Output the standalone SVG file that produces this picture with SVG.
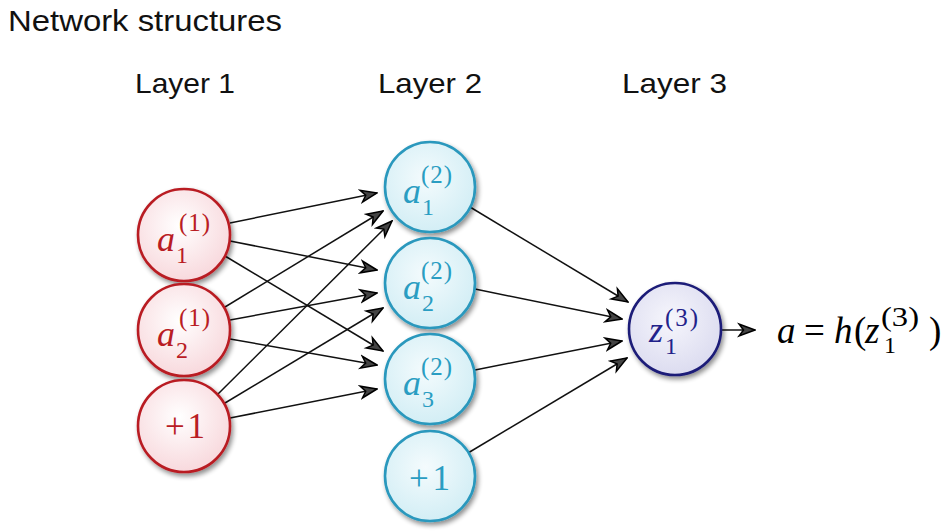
<svg xmlns="http://www.w3.org/2000/svg" width="949" height="531" viewBox="0 0 949 531">
<style>
.title{font-family:"Liberation Sans","Noto Sans",sans-serif;fill:#111}
.m{font-family:"Liberation Serif","DejaVu Serif",serif}
.it{font-style:italic}
.n1 circle{fill:url(#gRed);stroke:#b91c24;stroke-width:2.6}
.n1 text{fill:#b91c24}
.n2 circle{fill:url(#gTeal);stroke:#2a98bd;stroke-width:2.6}
.n2 text{fill:#2a9dc2}
.n3 circle{fill:url(#gNavy);stroke:#1c1c78;stroke-width:2.6}
.n3 text{fill:#22228a}
.edge{stroke:#111;stroke-width:1.5;fill:none;marker-end:url(#arr)}
</style>
<defs>
<radialGradient id="gRed" cx="0.45" cy="0.4" r="0.6"><stop offset="0" stop-color="#ffffff"/><stop offset="1" stop-color="#f8d9dd"/></radialGradient>
<radialGradient id="gTeal" cx="0.45" cy="0.4" r="0.6"><stop offset="0" stop-color="#f4fbfd"/><stop offset="1" stop-color="#d3eef5"/></radialGradient>
<radialGradient id="gNavy" cx="0.45" cy="0.4" r="0.6"><stop offset="0" stop-color="#f6f6fc"/><stop offset="1" stop-color="#dcdcf0"/></radialGradient>
<filter id="sh" x="-30%" y="-30%" width="170%" height="170%">
<feGaussianBlur in="SourceAlpha" stdDeviation="2.5"/>
<feOffset dx="2" dy="3" result="b"/>
<feComponentTransfer><feFuncA type="linear" slope="0.45"/></feComponentTransfer>
<feMerge><feMergeNode/><feMergeNode in="SourceGraphic"/></feMerge>
</filter>
<marker id="arr" viewBox="-18 -8 19 16" refX="0" refY="0" markerWidth="19" markerHeight="16" markerUnits="userSpaceOnUse" orient="auto">
<path d="M0,0 L-16,-6 L-11.5,0 L-16,6 z" fill="#444" stroke="#000" stroke-width="1.5" stroke-linejoin="miter"/>
</marker>
</defs>
<rect width="949" height="531" fill="#fff"/>
<text class="title" x="8" y="31" font-size="30" textLength="274" lengthAdjust="spacingAndGlyphs">Network structures</text>
<text class="title" x="135" y="93" font-size="28" textLength="100" lengthAdjust="spacingAndGlyphs">Layer 1</text>
<text class="title" x="378" y="93" font-size="28" textLength="104" lengthAdjust="spacingAndGlyphs">Layer 2</text>
<text class="title" x="622" y="93" font-size="28" textLength="105" lengthAdjust="spacingAndGlyphs">Layer 3</text>

<g id="connectors">
<line class="edge" x1="230" y1="223" x2="377" y2="193"/>
<line class="edge" x1="230" y1="241" x2="377" y2="270"/>
<line class="edge" x1="225" y1="256" x2="383" y2="351"/>
<line class="edge" x1="225" y1="307" x2="383" y2="211"/>
<line class="edge" x1="230" y1="320" x2="377" y2="293"/>
<line class="edge" x1="230" y1="339" x2="377" y2="365"/>
<line class="edge" x1="217" y1="395" x2="392" y2="221"/>
<line class="edge" x1="225" y1="403" x2="383" y2="308"/>
<line class="edge" x1="230" y1="418" x2="377" y2="389"/>
<line class="edge" x1="470" y1="207" x2="628" y2="302"/>
<line class="edge" x1="475" y1="289" x2="622" y2="319"/>
<line class="edge" x1="475" y1="370" x2="622" y2="341"/>
<line class="edge" x1="468" y1="453" x2="627" y2="358"/>
<line class="edge" x1="722" y1="330" x2="755" y2="330"/>
</g>

<g id="a1_1" class="n1">
<circle cx="184" cy="235" r="46" filter="url(#sh)"/>
<text class="m it" x="157" y="251" font-size="36">a</text>
<text class="m" x="176" y="263" font-size="24">1</text>
<text class="m" x="179" y="231" font-size="25" textLength="31" lengthAdjust="spacing">(1)</text>
</g>
<g id="a2_1" class="n1">
<circle cx="184" cy="330" r="46" filter="url(#sh)"/>
<text class="m it" x="157" y="346" font-size="36">a</text>
<text class="m" x="176" y="358" font-size="24">2</text>
<text class="m" x="179" y="326" font-size="25" textLength="31" lengthAdjust="spacing">(1)</text>
</g>
<g id="b1" class="n1">
<circle cx="184" cy="426" r="46" filter="url(#sh)"/>
<text class="m" x="165" y="438" font-size="35" textLength="40" lengthAdjust="spacing">+1</text>
</g>

<g id="a1_2" class="n2">
<circle cx="430" cy="187" r="45" filter="url(#sh)"/>
<text class="m it" x="403" y="203" font-size="36">a</text>
<text class="m" x="422" y="215" font-size="24">1</text>
<text class="m" x="421" y="183" font-size="25" textLength="31" lengthAdjust="spacing">(2)</text>
</g>
<g id="a2_2" class="n2">
<circle cx="430" cy="283" r="45" filter="url(#sh)"/>
<text class="m it" x="403" y="299" font-size="36">a</text>
<text class="m" x="422" y="311" font-size="24">2</text>
<text class="m" x="421" y="279" font-size="25" textLength="31" lengthAdjust="spacing">(2)</text>
</g>
<g id="a3_2" class="n2">
<circle cx="430" cy="379" r="45" filter="url(#sh)"/>
<text class="m it" x="403" y="395" font-size="36">a</text>
<text class="m" x="422" y="407" font-size="24">3</text>
<text class="m" x="421" y="375" font-size="25" textLength="31" lengthAdjust="spacing">(2)</text>
</g>
<g id="b2" class="n2">
<circle cx="430" cy="476" r="45" filter="url(#sh)"/>
<text class="m" x="409" y="490" font-size="35" textLength="41" lengthAdjust="spacing">+1</text>
</g>

<g id="z1_3" class="n3">
<circle cx="675" cy="329" r="46" filter="url(#sh)"/>
<text class="m it" x="649" y="342" font-size="36">z</text>
<text class="m" x="665" y="354" font-size="24">1</text>
<text class="m" x="665" y="326" font-size="25" textLength="33" lengthAdjust="spacing">(3)</text>
</g>

<g id="output">
<text class="m it" x="777" y="343" font-size="37" fill="#000">a</text>
<text class="m" x="804" y="343" font-size="37" fill="#000">=</text>
<text class="m it" x="834" y="343" font-size="37" fill="#000">h</text>
<text class="m" x="854" y="343" font-size="37" fill="#000">(</text>
<text class="m it" x="865" y="343" font-size="37" fill="#000">z</text>
<text class="m" x="884" y="353" font-size="24" fill="#000">1</text>
<text class="m" x="881" y="326" font-size="28" fill="#000" textLength="38" lengthAdjust="spacingAndGlyphs">(3)</text>
<text class="m" x="929" y="343" font-size="37" fill="#000">)</text>
</g>
</svg>
